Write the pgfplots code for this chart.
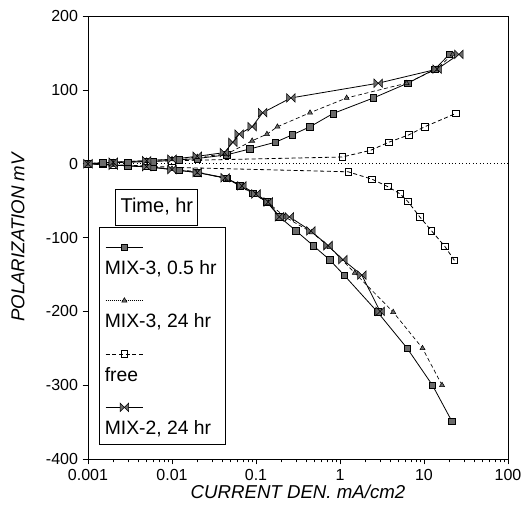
\documentclass[border=0pt]{standalone}
\usepackage{fontspec}
\setmainfont{Liberation Sans}
\setsansfont{Liberation Sans}
\usepackage{pgfplots}
\pgfplotsset{compat=1.18}
\usetikzlibrary{calc}
\definecolor{markgray}{gray}{0.42}

% bow-tie marker used for MIX-2
\pgfdeclareplotmark{bowtie}{%
  \pgfpathmoveto{\pgfqpoint{-\pgfplotmarksize}{\pgfplotmarksize}}%
  \pgfpathlineto{\pgfqpoint{\pgfplotmarksize}{-\pgfplotmarksize}}%
  \pgfpathlineto{\pgfqpoint{\pgfplotmarksize}{\pgfplotmarksize}}%
  \pgfpathlineto{\pgfqpoint{-\pgfplotmarksize}{-\pgfplotmarksize}}%
  \pgfpathclose\pgfusepathqfillstroke}

\begin{document}
\begin{tikzpicture}
\begin{axis}[
  xmode=log,
  scale only axis,
  width=315pt, height=332.25pt,
  xmin=0.001, xmax=100,
  ymin=-400, ymax=200,
  xtick={0.001,0.01,0.1,1,10,100},
  xticklabels={0.001,0.01,0.1,1,10,100},
  ytick={-400,-300,-200,-100,0,100,200},
  tick align=outside, tick pos=left,
  major tick length=4pt, minor tick length=2.5pt,
  every tick/.style={black, line width=0.5pt},
  axis line style={line width=0.6pt},
  /pgf/number format/assume math mode=true,
  ticklabel style={font=\fontsize{12}{14}\selectfont},
  xlabel={\itshape CURRENT DEN. mA/cm2},
  ylabel={\itshape POLARIZATION mV},
  label style={font=\fontsize{14}{16}\selectfont},
  x label style={at={(axis description cs:0.5,-0.075)}, anchor=center},
  y label style={at={(axis description cs:-0.167,0.5)}, anchor=center},
  legend image code/.code={%
    \draw[mark repeat=2, mark phase=2, #1]
      plot coordinates {(0pt,16pt) (14pt,16pt) (28pt,16pt)};
    \path[draw=none] (0pt,-10pt) -- (0pt,29pt);},
  legend cell align=left,
  legend style={at={(0.026,0.524)}, anchor=north west, draw=black, line width=0.6pt,
    font=\fontsize{14.5}{17}\selectfont, column sep=-31pt, row sep=1pt, inner xsep=4.5pt},
]
\addplot[forget plot, black, dotted, line width=0.6pt] coordinates {(0.001,0) (100,0)};

% MIX-3, 0.5 hr
\addplot[black, line width=0.6pt, mark=square*, mark size=2.5pt,
    mark options={fill=markgray, solid, line width=0.4pt}] coordinates {
  (21.5,-349) (12.6,-300) (6.3,-250) (2.8,-201) (1.12,-151) (0.75,-130) (0.48,-111) (0.3,-91)
  (0.19,-72) (0.135,-52) (0.092,-40) (0.064,-30) (0.045,-20) (0.02,-12) (0.012,-9) (0.006,-5)
  (0.003,-3) (0.0015,-1) (0.001,0)
  (0.0015,1) (0.003,2) (0.006,3) (0.012,5) (0.02,7) (0.045,12) (0.085,20) (0.17,29) (0.27,39)
  (0.44,50) (0.83,68) (2.5,89) (6.4,109) (13.5,128) (20,148)};
\addlegendentry{MIX-3, 0.5 hr}

% MIX-3, 24 hr
\addplot[black, line width=0.5pt, densely dashed, mark=triangle*, mark size=2.2pt,
    mark options={fill=markgray, solid, line width=0.4pt},
    legend image post style={densely dotted}] coordinates {
  (16.4,-300) (9.6,-250) (4.3,-201) (1.5,-148) (0.75,-113) (0.46,-93) (0.22,-72) (0.14,-53)
  (0.1,-42) (0.07,-31) (0.046,-21) (0.02,-11) (0.01,-7) (0.005,-4) (0.002,-2) (0.001,0)
  (0.002,2) (0.005,4) (0.01,6) (0.02,9) (0.045,13) (0.09,31) (0.135,40) (0.18,50)
  (0.44,69) (1.2,89) (6.2,109) (14,128) (22,148)};
\addlegendentry{MIX-3, 24 hr}

% free
\addplot[black, line width=0.6pt, dash pattern=on 3pt off 2pt, mark=square, mark size=2.4pt,
    mark options={fill=white, solid, line width=0.5pt}] coordinates {
  (23,-131) (17.7,-112) (12.3,-91) (8.9,-72) (6.4,-51) (5.2,-41) (3.7,-31) (2.4,-21) (1.25,-11)
  (0.01,-5) (0.005,-3) (0.002,-1.5) (0.001,0)
  (0.002,1.5) (0.005,3) (0.01,4)
  (1.06,9) (2.3,18) (3.8,29) (6.6,39) (10.2,50) (24,68)};
\addlegendentry{free}

% MIX-2, 24 hr
\addplot[black, line width=0.6pt, mark=bowtie, mark size=3.2pt,
    mark options={fill=markgray, solid, line width=0.4pt}] coordinates {
  (3.0,-200) (1.82,-151) (1.08,-130) (0.72,-111) (0.45,-91) (0.25,-72) (0.19,-72) (0.14,-52)
  (0.1,-41) (0.068,-30) (0.043,-19) (0.02,-12) (0.01,-8) (0.005,-4) (0.002,-2) (0.001,0)
  (0.002,2) (0.005,4) (0.01,6) (0.02,10) (0.042,15) (0.053,29) (0.063,40) (0.09,50)
  (0.12,69) (0.26,89) (2.85,109) (14.3,128) (26,148)};
\addlegendentry{MIX-2, 24 hr}

\node[draw=black, line width=0.6pt, fill=white, minimum width=61.5pt, minimum height=27pt,
  font=\fontsize{15}{17}\selectfont] at (rel axis cs:0.164,0.569) {Time, hr};
\end{axis}
\pgfresetboundingbox
\path ($(current axis.south west)+(-66pt,-38.25pt)$) rectangle ($(current axis.north east)+(13.5pt,12pt)$);
\end{tikzpicture}
\end{document}
